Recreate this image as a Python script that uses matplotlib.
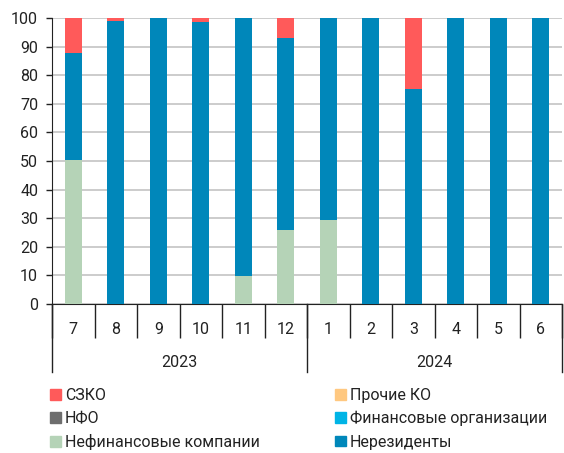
import matplotlib
matplotlib.use("Agg")
import matplotlib.pyplot as plt
import matplotlib.patches as patches
import numpy as np

plt.rcParams['font.family'] = ['Roboto', 'DejaVu Sans']

# months (Jul 2023 .. Jun 2024) and year groups
months = ['7', '8', '9', '10', '11', '12', '1', '2', '3', '4', '5', '6']
years = ['2023', '2024']
year_len = [6, 6]

# shares by holder group, %
nonfin = [50.3, 0, 0, 0, 9.8, 25.9, 29.4, 0, 0, 0, 0, 0]
nfo = [0] * 12
fin_org = [0] * 12
other_ko = [0] * 12
nonres = [37.6, 99.0, 100, 98.8, 90.2, 67.2, 70.6, 100, 75.3, 100, 100, 100]
szko = [12.1, 1.0, 0, 1.2, 0, 6.9, 0, 0, 24.7, 0, 0, 0]

series = [
    ('Нефинансовые компании', nonfin, '#b5d3b7'),
    ('НФО', nfo, '#6e6e6e'),
    ('Финансовые организации', fin_org, '#00b4e6'),
    ('Прочие КО', other_ko, '#ffc880'),
    ('Нерезиденты', nonres, '#0087ba'),
    ('СЗКО', szko, '#ff5a5a'),
]

fs = 11.5
fig = plt.figure(figsize=(5.64, 4.53), dpi=100)
ax = fig.add_axes([0.0922, 0.329, 0.9043, 0.631])

x = np.arange(len(months))
bottom = np.zeros(len(months))
for name, vals, col in series:
    vals = np.array(vals, dtype=float)
    ax.bar(x, vals, 0.4, bottom=bottom, color=col, edgecolor='none', zorder=3)
    bottom += vals

ax.set_xlim(-0.5, len(months) - 0.5)
ax.set_ylim(0, 100)
ax.set_yticks(range(0, 101, 10))
ax.yaxis.grid(True, color='#c4c4c4', lw=1.2, zorder=0)
ax.tick_params(axis='y', labelsize=fs, length=4, width=1, pad=6, colors='#222222')

for s in ['top', 'right']:
    ax.spines[s].set_visible(False)
ax.spines['left'].set_color('#222222')
ax.spines['bottom'].set_color('#222222')

# month labels at centres, separators at boundaries
ax.set_xticks(np.arange(-0.5, len(months)), minor=False)
ax.set_xticklabels([])
ax.tick_params(axis='x', which='major', length=24.5, width=1, colors='#222222')
ax.set_xticks(x, minor=True)
ax.set_xticklabels(months, minor=True)
ax.tick_params(axis='x', which='minor', length=0, pad=13, labelsize=fs, colors='#222222')

# year group separators and labels
trans = ax.get_xaxis_transform()
depth = -68 / 286
start = -0.5
ax.plot([start, start], [0, depth], color='#222222', lw=1, transform=trans, clip_on=False)
for yr, n in zip(years, year_len):
    end = start + n
    ax.plot([end, end], [0, depth], color='#222222', lw=1, transform=trans, clip_on=False)
    ax.text((start + end) / 2, -59 / 286, yr, transform=trans, ha='center', va='center',
            fontsize=fs, color='#222222')
    start = end

# legend, filled column by column
order = ['СЗКО', 'НФО', 'Нефинансовые компании', 'Прочие КО', 'Финансовые организации', 'Нерезиденты']
cols = {name: col for name, _, col in series}
handles = [patches.Patch(color=cols[n], label=n) for n in order]
fig.legend(handles=handles, loc='upper left', bbox_to_anchor=(0.078, 0.158),
           ncol=2, frameon=False, fontsize=fs, handlelength=0.65, handleheight=0.65,
           handletextpad=0.25, columnspacing=4.75, labelspacing=0.52, borderaxespad=0,
           labelcolor='#222222')

fig.savefig('out.png', dpi=100)
